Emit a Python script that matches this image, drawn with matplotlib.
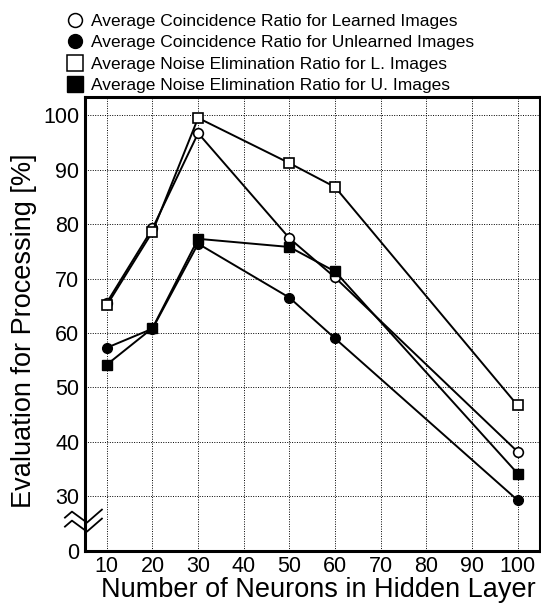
import numpy as np
import matplotlib.pyplot as plt
from matplotlib.lines import Line2D

plt.rcParams['font.family'] = ['Liberation Sans', 'DejaVu Sans']

# number of neurons in hidden layer
neurons = [10, 20, 30, 50, 60, 100]
x_ticks = [10, 20, 30, 40, 50, 60, 70, 80, 90, 100]

# evaluation values [%] (axis is broken below 30)
coin_learned = [65.6, 79.2, 96.7, 77.4, 70.2, 38.2]
coin_unlearned = [57.3, 60.8, 76.4, 66.5, 59.0, 29.3]
noise_learned = [65.1, 78.6, 99.5, 91.2, 86.8, 46.7]
noise_unlearned = [54.2, 60.9, 77.3, 75.8, 71.3, 34.2]

labels = ['Average Coincidence Ratio for Learned Images',
          'Average Coincidence Ratio for Unlearned Images',
          'Average Noise Elimination Ratio for L. Images',
          'Average Noise Elimination Ratio for U. Images']

fig = plt.figure(figsize=(5.41, 6.04), dpi=100)
ax = fig.add_axes([0.157, 0.088, 0.842, 0.751])

lw = 1.4
ax.plot(neurons, coin_learned, 'k-', lw=lw, marker='o', ms=7, mfc='white', mec='k', mew=1.2, clip_on=False, zorder=3)
ax.plot(neurons, coin_unlearned, 'k-', lw=lw, marker='o', ms=7, mfc='k', mec='k', clip_on=False, zorder=3)
ax.plot(neurons, noise_learned, 'k-', lw=lw, marker='s', ms=7, mfc='white', mec='k', mew=1.2, clip_on=False, zorder=3)
ax.plot(neurons, noise_unlearned, 'k-', lw=lw, marker='s', ms=7, mfc='k', mec='k', clip_on=False, zorder=3)

ax.set_xlim(5.2, 105)
ax.set_ylim(20, 103.3)
ax.set_xticks(x_ticks)
ax.set_xticklabels([str(v) for v in x_ticks])
ax.set_yticks([20, 30, 40, 50, 60, 70, 80, 90, 100])
ax.set_yticklabels(['0', '30', '40', '50', '60', '70', '80', '90', '100'])
ax.tick_params(length=0, labelsize=15.5, pad=4)

# dotted grid (none on the broken part at the bottom)
for v in x_ticks:
    ax.axvline(v, color='k', lw=0.7, ls=(0, (1, 1.5)), zorder=1)
for v in [30, 40, 50, 60, 70, 80, 90, 100]:
    ax.axhline(v, color='k', lw=0.7, ls=(0, (1, 1.5)), zorder=1)

for s in ax.spines.values():
    s.set_linewidth(2.2)

ax.set_ylabel('Evaluation for Processing [%]', fontsize=19.5)
ax.yaxis.set_label_coords(-0.105, 0.485)
ax.set_xlabel('Number of Neurons in Hidden Layer', fontsize=19.5)
ax.xaxis.set_label_coords(0.513, -0.058)

# axis break marks
px_x = 10 / 45.7
px_y = 10 / 54.4
for dy0 in [0, -9]:
    bx = [5.2 + d * px_x for d in [-20, -13, 2, 17]]
    by = [25 + (d + dy0) * px_y for d in [6, 12, 1, 14]]
    ax.plot(bx, by, 'k-', lw=1.3, clip_on=False, zorder=4)

# legend above the plot
handles = [Line2D([], [], ls='none', marker='o', ms=10, mfc='white', mec='k', mew=1.1),
           Line2D([], [], ls='none', marker='o', ms=10, mfc='k', mec='k'),
           Line2D([], [], ls='none', marker='s', ms=11, mfc='white', mec='k', mew=1.1),
           Line2D([], [], ls='none', marker='s', ms=11, mfc='k', mec='k')]
fig.legend(handles, labels, loc='upper left', bbox_to_anchor=(0.098, 0.999),
           frameon=False, fontsize=12.55, handlelength=1.0, handletextpad=0.45,
           labelspacing=0.36, borderaxespad=0.35)

fig.savefig('out.png', dpi=100)
